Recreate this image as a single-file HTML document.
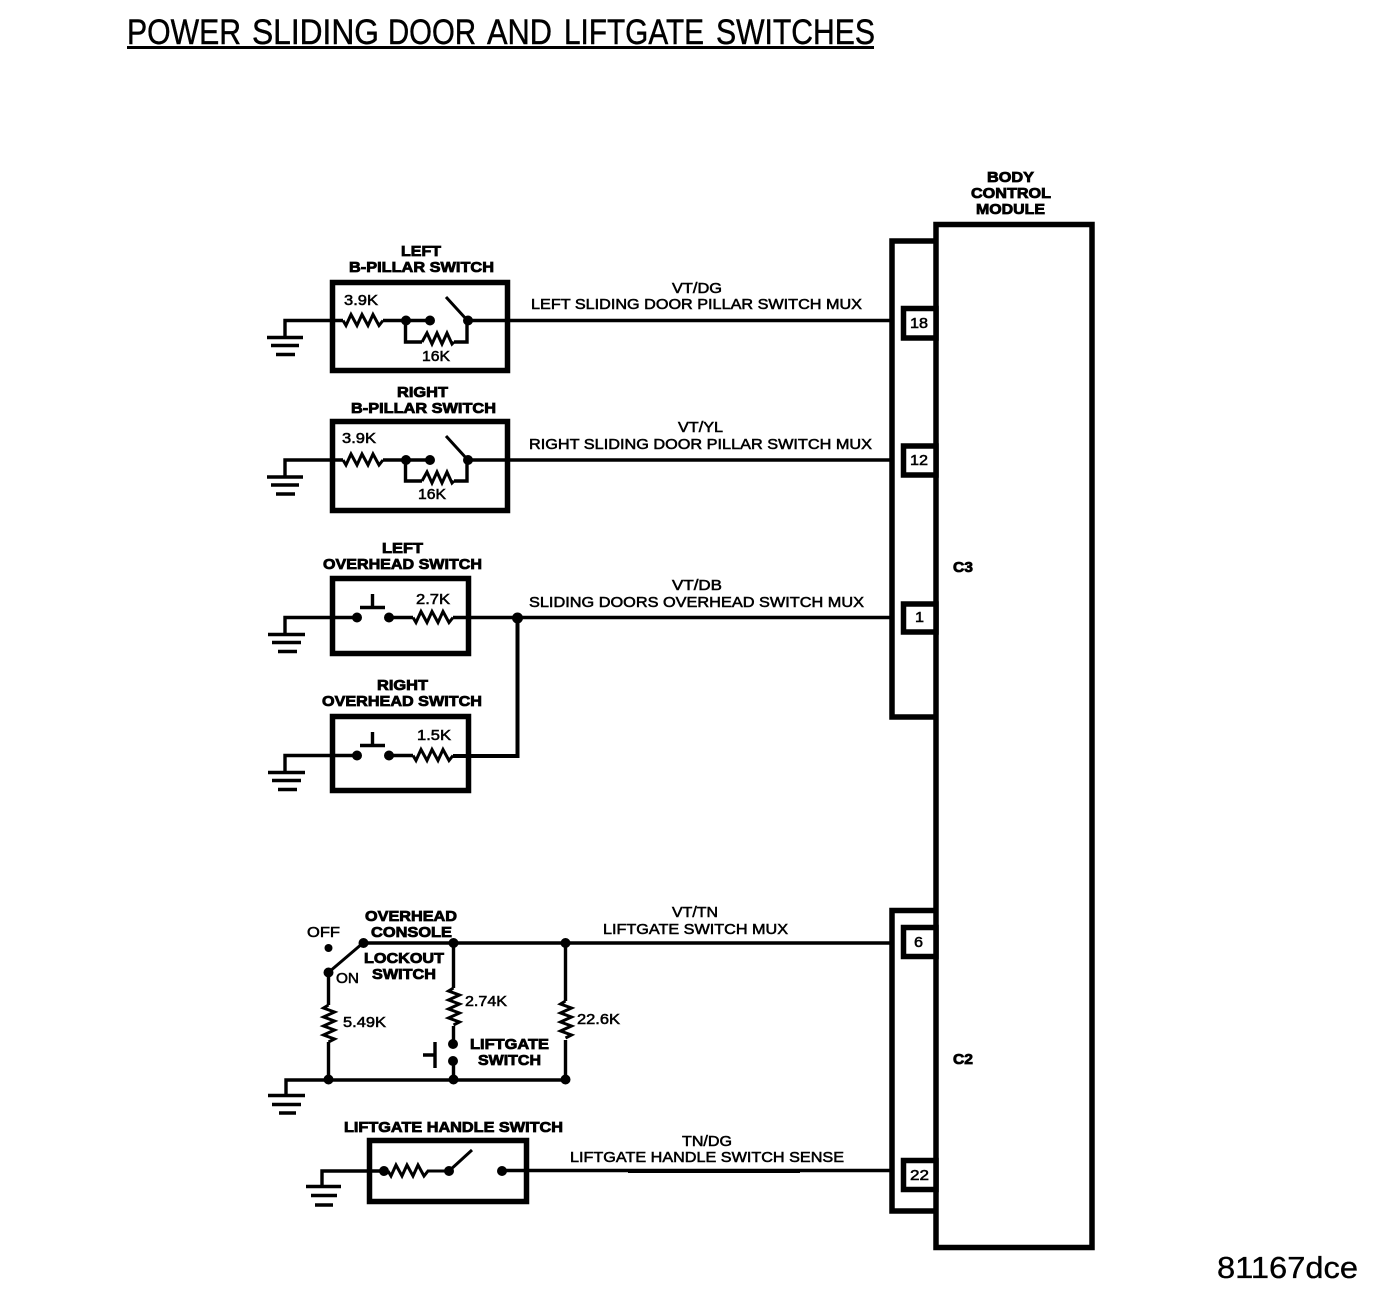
<!DOCTYPE html>
<html><head><meta charset="utf-8"><style>
html,body{margin:0;padding:0;background:#fff}
svg{display:block}
text{font-family:"Liberation Sans",sans-serif;font-size:15px;fill:#000;stroke:#000;stroke-width:.55px}
.b{font-weight:bold;stroke-width:.8px}
.h{font-size:35px;stroke-width:.45px}
.l{stroke:#000;fill:none;stroke-width:3.4;stroke-linejoin:miter}
.t{stroke:#000;fill:none;stroke-width:5.500}
.r{stroke:#000;fill:none;stroke-width:3}
</style></head><body>
<svg width="1392" height="1294" viewBox="0 0 1392 1294" xmlns="http://www.w3.org/2000/svg">
<rect width="1392" height="1294" fill="#fff"/>
<!-- title -->
<text class="h" x="127" y="44" textLength="114" lengthAdjust="spacingAndGlyphs">POWER</text>
<text class="h" x="252" y="44" textLength="127" lengthAdjust="spacingAndGlyphs">SLIDING</text>
<text class="h" x="388" y="44" textLength="88" lengthAdjust="spacingAndGlyphs">DOOR</text>
<text class="h" x="487" y="44" textLength="65" lengthAdjust="spacingAndGlyphs">AND</text>
<text class="h" x="564" y="44" textLength="140" lengthAdjust="spacingAndGlyphs">LIFTGATE</text>
<text class="h" x="716" y="44" textLength="159" lengthAdjust="spacingAndGlyphs">SWITCHES</text>
<rect x="127" y="46" width="747" height="3"/>
<text x="1217" y="1278" textLength="141" lengthAdjust="spacingAndGlyphs" style="font-size:31px;stroke-width:.35px">81167dce</text>
<!-- BCM -->
<rect class="t" x="936" y="224.500" width="156" height="1023"/>
<path class="t" d="M936 241H892V717H936"/>
<path class="t" d="M936 910.500H892V1211H936"/>
<g class="t" style="fill:#fff">
<rect x="903.500" y="308.500" width="32.500" height="29.500"/>
<rect x="903.500" y="446" width="32.500" height="29"/>
<rect x="903.500" y="604" width="32.500" height="28"/>
<rect x="903.500" y="927.500" width="32.500" height="29"/>
<rect x="903.500" y="1160.500" width="32.500" height="29"/>
</g>
<text x="910" y="328" textLength="18" lengthAdjust="spacingAndGlyphs">18</text>
<text x="910" y="465" textLength="18" lengthAdjust="spacingAndGlyphs">12</text>
<text x="915" y="622" textLength="9" lengthAdjust="spacingAndGlyphs">1</text>
<text x="914" y="947" textLength="9" lengthAdjust="spacingAndGlyphs">6</text>
<text x="910" y="1180" textLength="19" lengthAdjust="spacingAndGlyphs">22</text>
<text class="b" x="987" y="182" textLength="47" lengthAdjust="spacingAndGlyphs">BODY</text>
<text class="b" x="971" y="198" textLength="80" lengthAdjust="spacingAndGlyphs">CONTROL</text>
<text class="b" x="976" y="214" textLength="69" lengthAdjust="spacingAndGlyphs">MODULE</text>
<text class="b" x="953" y="572" textLength="20" lengthAdjust="spacingAndGlyphs">C3</text>
<text class="b" x="953" y="1064" textLength="20" lengthAdjust="spacingAndGlyphs">C2</text>

<!-- switch boxes -->
<rect class="t" x="332.500" y="282.500" width="175" height="88"/>
<rect class="t" x="332.500" y="421.500" width="175" height="89"/>
<rect class="t" x="332.500" y="578.500" width="136" height="75"/>
<rect class="t" x="332.500" y="716.500" width="136" height="74"/>
<rect class="t" x="369.500" y="1140.500" width="157" height="61"/>

<!-- left b-pillar -->
<path class="l" d="M285 337V320.500H343"/>
<path class="r" d="M343 320.500l3 5 5-11 6 11 5-11 6 11 5-11 6 11 4-5"/>
<path class="l" d="M383 320.500H430M467 320.500H892"/>
<path class="r" d="M446 297L467 320"/>
<path class="l" d="M405.500 320V342H422"/>
<path class="r" d="M422 342l5-9 5 11 5-11 5 11 5-11 5 11 2-2"/>
<path class="l" d="M454 342H467V320"/>
<circle cx="406" cy="320.500" r="5"/><circle cx="430" cy="320.500" r="5"/><circle cx="468" cy="320.500" r="5"/>
<path class="l" d="M267 337.500H303M271 345.500H299M276 354.500H295"/>
<text class="b" x="401" y="256" textLength="40" lengthAdjust="spacingAndGlyphs">LEFT</text>
<text class="b" x="349" y="272" textLength="145" lengthAdjust="spacingAndGlyphs">B-PILLAR SWITCH</text>
<text x="344" y="305" textLength="34" lengthAdjust="spacingAndGlyphs">3.9K</text>
<text x="422" y="361" textLength="28" lengthAdjust="spacingAndGlyphs">16K</text>
<text x="672" y="293" textLength="50" lengthAdjust="spacingAndGlyphs">VT/DG</text>
<text x="531" y="309" textLength="331" lengthAdjust="spacingAndGlyphs">LEFT SLIDING DOOR PILLAR SWITCH MUX</text>

<!-- right b-pillar -->
<path class="l" d="M285 477V460H343"/>
<path class="r" d="M343 460l3 5 5-11 6 11 5-11 6 11 5-11 6 11 4-5"/>
<path class="l" d="M383 460H430M467 460H892"/>
<path class="r" d="M446 436L467 459"/>
<path class="l" d="M405.500 460V481H422"/>
<path class="r" d="M422 481l5-9 5 11 5-11 5 11 5-11 5 11 2-2"/>
<path class="l" d="M454 481H467V460"/>
<circle cx="406" cy="460" r="5"/><circle cx="430" cy="460" r="5"/><circle cx="468" cy="460" r="5"/>
<path class="l" d="M267 477H303M271 485H299M276 494H295"/>
<text class="b" x="397" y="397" textLength="51" lengthAdjust="spacingAndGlyphs">RIGHT</text>
<text class="b" x="351" y="413" textLength="145" lengthAdjust="spacingAndGlyphs">B-PILLAR SWITCH</text>
<text x="342" y="443" textLength="34" lengthAdjust="spacingAndGlyphs">3.9K</text>
<text x="418" y="499" textLength="28" lengthAdjust="spacingAndGlyphs">16K</text>
<text x="678" y="432" textLength="45" lengthAdjust="spacingAndGlyphs">VT/YL</text>
<text x="529" y="449" textLength="343" lengthAdjust="spacingAndGlyphs">RIGHT SLIDING DOOR PILLAR SWITCH MUX</text>

<!-- left overhead -->
<path class="l" d="M285 634V617.500H357M389 617.500H413M453 617.500H892"/>
<path class="r" d="M413 617.500l3 5 5-11 6 11 5-11 6 11 5-11 6 11 4-5"/>
<path class="l" d="M360 607.500H385M372.500 594V607"/>
<circle cx="357" cy="617.500" r="5"/><circle cx="389" cy="617.500" r="5"/><circle cx="517.500" cy="618" r="5.500"/>
<path class="l" d="M268 634.500H305M272 642.500H301M278 651.500H297"/>
<path class="l" d="M517.500 618V756H453" style="stroke-width:4"/>
<text class="b" x="382" y="553" textLength="41" lengthAdjust="spacingAndGlyphs">LEFT</text>
<text class="b" x="323" y="569" textLength="159" lengthAdjust="spacingAndGlyphs">OVERHEAD SWITCH</text>
<text x="416" y="604" textLength="34" lengthAdjust="spacingAndGlyphs">2.7K</text>
<text x="672" y="590" textLength="50" lengthAdjust="spacingAndGlyphs">VT/DB</text>
<text x="529" y="607" textLength="335" lengthAdjust="spacingAndGlyphs">SLIDING DOORS OVERHEAD SWITCH MUX</text>

<!-- right overhead -->
<path class="l" d="M285 772V755.500H357M389 755.500H413"/>
<path class="r" d="M413 755.500l3 5 5-11 6 11 5-11 6 11 5-11 6 11 4-5"/>
<path class="l" d="M360 745.500H385M372.500 732V745"/>
<circle cx="357" cy="755.500" r="5"/><circle cx="389" cy="755.500" r="5"/>
<path class="l" d="M268 772.500H305M272 780.500H301M278 789.500H297"/>
<text class="b" x="377" y="690" textLength="51" lengthAdjust="spacingAndGlyphs">RIGHT</text>
<text class="b" x="322" y="706" textLength="160" lengthAdjust="spacingAndGlyphs">OVERHEAD SWITCH</text>
<text x="417" y="740" textLength="34" lengthAdjust="spacingAndGlyphs">1.5K</text>

<!-- lockout / liftgate -->
<path class="l" d="M363 943H892"/>
<path class="r" d="M363 943L329 972"/>
<path class="l" d="M328.500 972V1005M328.500 1042V1080"/>
<path class="r" d="M328.500 1005l-5 3 11 4-11 5 11 4-11 5 11 4-11 5 11 4-6 3"/>
<path class="l" d="M453.500 943V988M453.500 1026V1042M453.500 1062V1080"/>
<path class="r" d="M453.500 988l-5 3 11 4-11 5 11 4-11 5 11 4-11 5 11 4-6 3"/>
<path class="l" d="M565.500 943V1001M565.500 1040V1080"/>
<path class="r" d="M565.500 1001l-5 3 11 4-11 5 11 4-11 5 11 4-11 5 11 4-6 3"/>
<path class="l" d="M286 1095V1080H566"/>
<path class="l" d="M435 1042V1068M423 1055H435"/>
<circle cx="328.500" cy="948" r="4"/><circle cx="328.500" cy="972.500" r="5"/><circle cx="363.500" cy="943" r="5"/>
<circle cx="453.500" cy="943" r="5"/><circle cx="565.500" cy="943" r="5"/>
<circle cx="328.500" cy="1079.500" r="5"/><circle cx="453.500" cy="1079.500" r="5"/><circle cx="565.500" cy="1079.500" r="5"/>
<circle cx="453" cy="1044" r="5"/><circle cx="453" cy="1061" r="5"/>
<path class="l" d="M268 1095.500H305M272 1104.500H301M279 1113H296"/>
<text x="307" y="937" textLength="33" lengthAdjust="spacingAndGlyphs">OFF</text>
<text class="b" x="365" y="921" textLength="92" lengthAdjust="spacingAndGlyphs">OVERHEAD</text>
<text class="b" x="371" y="937" textLength="81" lengthAdjust="spacingAndGlyphs">CONSOLE</text>
<text class="b" x="364" y="963" textLength="80" lengthAdjust="spacingAndGlyphs">LOCKOUT</text>
<text class="b" x="372" y="979" textLength="64" lengthAdjust="spacingAndGlyphs">SWITCH</text>
<text x="336" y="983" textLength="23" lengthAdjust="spacingAndGlyphs">ON</text>
<text x="343" y="1027" textLength="43" lengthAdjust="spacingAndGlyphs">5.49K</text>
<text x="465" y="1006" textLength="42" lengthAdjust="spacingAndGlyphs">2.74K</text>
<text x="577" y="1024" textLength="43" lengthAdjust="spacingAndGlyphs">22.6K</text>
<text class="b" x="470" y="1049" textLength="79" lengthAdjust="spacingAndGlyphs">LIFTGATE</text>
<text class="b" x="478" y="1065" textLength="63" lengthAdjust="spacingAndGlyphs">SWITCH</text>
<text x="672" y="917" textLength="46" lengthAdjust="spacingAndGlyphs">VT/TN</text>
<text x="603" y="934" textLength="185" lengthAdjust="spacingAndGlyphs">LIFTGATE SWITCH MUX</text>

<!-- handle switch -->
<path class="l" d="M322 1186V1171H384"/>
<path class="r" d="M388 1171l3 5 5-11 6 11 5-11 6 11 5-11 6 11 4-5H449"/>
<path class="r" d="M449 1171L472 1150"/>
<path class="l" d="M502 1170.500H892"/>
<rect x="628" y="1169" width="172" height="4"/>
<circle cx="384" cy="1171" r="5"/><circle cx="449" cy="1171" r="5"/><circle cx="502" cy="1171" r="5"/>
<path class="l" d="M306 1186.500H341M311 1195.500H337M315 1205H333"/>
<text class="b" x="344" y="1132" textLength="219" lengthAdjust="spacingAndGlyphs">LIFTGATE HANDLE SWITCH</text>
<text x="682" y="1146" textLength="50" lengthAdjust="spacingAndGlyphs">TN/DG</text>
<text x="570" y="1162" textLength="274" lengthAdjust="spacingAndGlyphs">LIFTGATE HANDLE SWITCH SENSE</text>
</svg>
</body></html>
